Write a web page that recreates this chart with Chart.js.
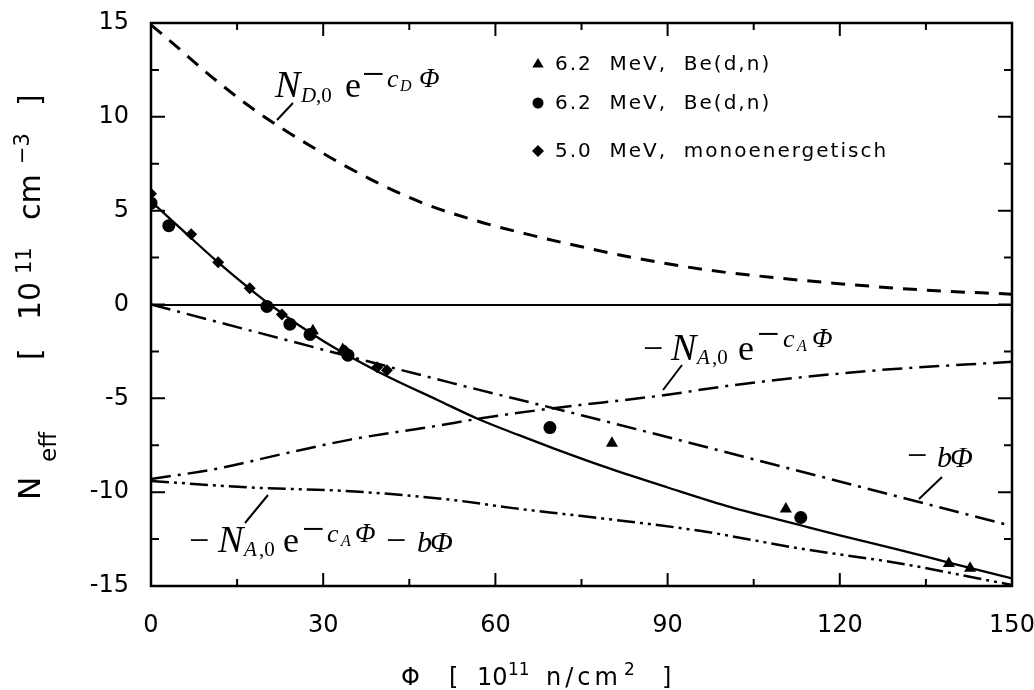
<!DOCTYPE html>
<html>
<head>
<meta charset="utf-8">
<script src="https://cdn.jsdelivr.net/npm/chart.js@4.4.0/dist/chart.umd.min.js"></script>
<style>
  html, body { margin: 0; padding: 0; background: #fff; }
  #wrap { width: 1034px; height: 690px; }
</style>
</head>
<body>
<div id="wrap"><canvas id="chart" width="1034" height="690"></canvas></div>
<script>
// measured data (Phi in 1e11 n/cm^2, Neff in 1e11 cm^-3)
const triX = [28.2, 33.4, 80.3, 110.6, 139.0, 142.7];
const triY = [-1.4, -2.4, -7.4, -10.9, -13.8, -14.05];
const circX = [0, 3.1, 20.2, 24.2, 27.7, 34.3, 69.5, 113.2];
const circY = [5.4, 4.2, -0.1, -1.05, -1.6, -2.7, -6.56, -11.35];
const diaX = [0, 7.0, 11.7, 17.2, 22.8, 33.8, 39.4, 41.1];
const diaY = [5.9, 3.75, 2.25, 0.86, -0.53, -2.45, -3.35, -3.5];

// fitted curve Neff
const fitX = [0, 5, 11.5, 20.7, 30, 40, 50, 57, 64, 70, 80, 90, 101, 113, 120, 130, 139, 150];
const fitY = [5.5, 4.1, 2.3, 0, -1.95, -3.65, -5.1, -6.1, -6.95, -7.65, -8.75, -9.75, -10.8, -11.75, -12.3, -13.05, -13.75, -14.6];
// N_D,0 exp(-cD Phi)
const donX = [0, 3.3, 10.3, 17.2, 23, 30, 38.7, 47.4, 56.8, 65.5, 74.2, 84, 96.9, 109.6, 122.3, 135.2, 150];
const donY = [14.9, 14.05, 12.2, 10.55, 9.35, 8.05, 6.6, 5.4, 4.45, 3.75, 3.13, 2.5, 1.84, 1.4, 1.05, 0.76, 0.55];
// -b Phi
const linX = [0, 52, 75, 150];
const linY = [0, -4.15, -5.9, -11.8];
// -N_A,0 exp(-cA Phi)
const accX = [0, 11.5, 23, 34.7, 49.1, 57.8, 69.5, 88.7, 101.4, 124.7, 150];
const accY = [-9.3, -8.75, -7.96, -7.2, -6.5, -6.05, -5.55, -4.86, -4.3, -3.55, -3.05];
// -N_A,0 exp(-cA Phi) - b Phi
const sumX = [0, 17.2, 34.7, 52.1, 63.1, 74.7, 95.6, 113, 130.5, 150];
const sumY = [-9.4, -9.75, -9.95, -10.4, -10.85, -11.26, -12.06, -13.0, -13.8, -14.95];

const legendLabels = ['6.2  MeV,  Be(d,n)', '6.2  MeV,  Be(d,n)', '5.0  MeV,  monoenergetisch'];

function pts(xs, ys) { return xs.map((x, i) => ({ x: x, y: ys[i] })); }

const SANS = "'DejaVu Sans', sans-serif";
const SERIF = "'Liberation Serif', 'DejaVu Serif', serif";

function lineSet(xs, ys, dash, width) {
    return {
        data: pts(xs, ys),
        showLine: true,
        pointRadius: 0,
        borderColor: '#000',
        borderWidth: width,
        borderDash: dash,
        cubicInterpolationMode: 'monotone',
        fill: false
    };
}

function marker(ctx, style, x, y, r) {
    ctx.beginPath();
    if (style === 'circle') {
        ctx.arc(x, y, r, 0, Math.PI * 2);
    } else if (style === 'triangle') {
        ctx.moveTo(x, y - r);
        ctx.lineTo(x + r * 0.95, y + r * 0.6);
        ctx.lineTo(x - r * 0.95, y + r * 0.6);
        ctx.closePath();
    } else {
        ctx.moveTo(x, y - r);
        ctx.lineTo(x + r, y);
        ctx.lineTo(x, y + r);
        ctx.lineTo(x - r, y);
        ctx.closePath();
    }
    ctx.fill();
}

// text pieces at absolute positions
function pieces(ctx, list) {
    list.forEach(p => {
        ctx.font = p.f;
        ctx.letterSpacing = p.ls || '0px';
        ctx.fillText(p.t, p.x, p.y);
    });
    ctx.letterSpacing = '0px';
}

const it = s => 'italic ' + s + 'px ' + SERIF;
const up = s => s + 'px ' + SERIF;

const decor = {
    id: 'decor',
    afterDraw(chart) {
        const ctx = chart.ctx;
        const a = chart.chartArea;
        const xs = chart.scales.x, ys = chart.scales.y;
        ctx.save();
        ctx.strokeStyle = '#000';
        ctx.fillStyle = '#000';

        // frame
        ctx.lineWidth = 2.5;
        ctx.strokeRect(a.left, a.top, a.right - a.left, a.bottom - a.top);

        // inward ticks on all sides
        ctx.lineWidth = 2;
        ctx.beginPath();
        for (let v = 0; v <= 150; v += 15) {
            const px = xs.getPixelForValue(v);
            const len = v % 30 === 0 ? 13 : 7;
            ctx.moveTo(px, a.bottom); ctx.lineTo(px, a.bottom - len);
            ctx.moveTo(px, a.top); ctx.lineTo(px, a.top + len);
        }
        for (let v = -15; v <= 15; v += 2.5) {
            const py = ys.getPixelForValue(v);
            const len = v % 5 === 0 ? 14 : 8;
            ctx.moveTo(a.left, py); ctx.lineTo(a.left + len, py);
            ctx.moveTo(a.right, py); ctx.lineTo(a.right - len, py);
        }
        // leader lines of the curve labels
        ctx.moveTo(293, 103); ctx.lineTo(277, 120);
        ctx.moveTo(682, 365); ctx.lineTo(663, 390);
        ctx.moveTo(942, 477); ctx.lineTo(919, 499);
        ctx.moveTo(268, 495); ctx.lineTo(245, 523);
        ctx.stroke();

        // curve labels
        ctx.textAlign = 'left';
        ctx.textBaseline = 'alphabetic';
        pieces(ctx, [
            { t: 'N', f: it(38), x: 275, y: 97 },
            { t: 'D', f: it(21), x: 301, y: 102 },
            { t: ',0', f: up(21), x: 316, y: 102 },
            { t: 'e', f: up(36), x: 345, y: 97 },
            { t: '\u2212', f: up(40), x: 362, y: 87 },
            { t: 'c', f: it(26), x: 387, y: 87 },
            { t: 'D', f: it(16), x: 400, y: 91 },
            { t: '\u03A6', f: it(27), x: 419, y: 87 }
        ]);
        pieces(ctx, [
            { t: '\u2212', f: up(36), x: 643, y: 360 },
            { t: 'N', f: it(38), x: 671, y: 360 },
            { t: 'A', f: it(21), x: 697, y: 364 },
            { t: ',0', f: up(21), x: 712, y: 364 },
            { t: 'e', f: up(36), x: 738, y: 360 },
            { t: '\u2212', f: up(40), x: 757, y: 347 },
            { t: 'c', f: it(26), x: 783, y: 347 },
            { t: 'A', f: it(16), x: 797, y: 351 },
            { t: '\u03A6', f: it(27), x: 812, y: 347 }
        ]);
        pieces(ctx, [
            { t: '\u2212', f: up(36), x: 907, y: 467 },
            { t: 'b', f: it(30), x: 937, y: 467 },
            { t: '\u03A6', f: it(30), x: 950, y: 467 }
        ]);
        pieces(ctx, [
            { t: '\u2212', f: up(36), x: 189, y: 552 },
            { t: 'N', f: it(38), x: 218, y: 552 },
            { t: 'A', f: it(21), x: 244, y: 556 },
            { t: ',0', f: up(21), x: 259, y: 556 },
            { t: 'e', f: up(36), x: 283, y: 552 },
            { t: '\u2212', f: up(40), x: 302, y: 542 },
            { t: 'c', f: it(26), x: 327, y: 542 },
            { t: 'A', f: it(16), x: 341, y: 546 },
            { t: '\u03A6', f: it(27), x: 355, y: 542 },
            { t: '\u2212', f: up(36), x: 386, y: 552 },
            { t: 'b', f: it(30), x: 417, y: 552 },
            { t: '\u03A6', f: it(30), x: 430, y: 552 }
        ]);

        // legend inside the plot
        const styles = ['triangle', 'circle', 'rectRot'];
        const rows = [64, 103, 151];
        ctx.font = '20px ' + SANS;
        ctx.textBaseline = 'middle';
        ctx.letterSpacing = '2px';
        legendLabels.forEach((lab, i) => {
            marker(ctx, styles[i], 538, rows[i], i === 1 ? 5.5 : 6);
            ctx.fillText(lab, 555, rows[i] + 1);
        });
        ctx.letterSpacing = '0px';

        // x axis title
        ctx.textBaseline = 'alphabetic';
        pieces(ctx, [
            { t: '\u03A6', f: '24px ' + SANS, x: 401, y: 685 },
            { t: '[', f: '24px ' + SANS, x: 449, y: 685 },
            { t: '10', f: '24px ' + SANS, x: 477, y: 685 },
            { t: '11', f: '17px ' + SANS, x: 508, y: 675 },
            { t: 'n/cm', f: '24px ' + SANS, x: 546, y: 685, ls: '4px' },
            { t: '2', f: '17px ' + SANS, x: 624, y: 675 },
            { t: ']', f: '24px ' + SANS, x: 662, y: 685 }
        ]);

        // y axis title, rotated
        ctx.translate(40, 500);
        ctx.rotate(-Math.PI / 2);
        pieces(ctx, [
            { t: 'N', f: '31px ' + SANS, x: 0, y: 0 },
            { t: 'eff', f: '23px ' + SANS, x: 38, y: 16 },
            { t: '[', f: '30px ' + SANS, x: 140, y: 0 },
            { t: '10', f: '30px ' + SANS, x: 180, y: 0 },
            { t: '11', f: '21px ' + SANS, x: 226, y: -9 },
            { t: 'cm', f: '30px ' + SANS, x: 280, y: 0 },
            { t: '\u22123', f: '21px ' + SANS, x: 336, y: -11 },
            { t: ']', f: '30px ' + SANS, x: 394, y: 0 }
        ]);
        ctx.restore();
    }
};

new Chart(document.getElementById('chart'), {
    type: 'scatter',
    data: {
        datasets: [
            { data: pts(triX, triY), pointStyle: 'triangle', pointRadius: 7, backgroundColor: '#000', borderColor: '#000', borderWidth: 0 },
            { data: pts(circX, circY), pointStyle: 'circle', pointRadius: 6.5, backgroundColor: '#000', borderColor: '#000', borderWidth: 0 },
            { data: pts(diaX, diaY), pointStyle: 'rectRot', pointRadius: 6, backgroundColor: '#000', borderColor: '#000', borderWidth: 0 },
            lineSet(fitX, fitY, [], 2.3),
            lineSet(donX, donY, [14, 10], 3),
            lineSet(linX, linY, [20, 7, 3, 7], 2.5),
            lineSet(accX, accY, [20, 7, 3, 7], 2.5),
            lineSet(sumX, sumY, [18, 5, 3, 5, 3, 5], 2.5)
        ]
    },
    options: {
        responsive: false,
        animation: false,
        layout: { padding: { top: 23, right: 22, left: 0, bottom: 0 } },
        plugins: {
            legend: { display: false },
            tooltip: { enabled: false }
        },
        scales: {
            x: {
                type: 'linear',
                min: 0,
                max: 150,
                border: { display: false },
                grid: { display: false },
                ticks: {
                    stepSize: 30,
                    color: '#000',
                    padding: 17,
                    maxRotation: 0,
                    font: { family: SANS, size: 24 }
                },
                afterFit: s => {
                    s.height = 104;
                    s.paddingLeft = 0;
                    s.paddingRight = 0;
                }
            },
            y: {
                type: 'linear',
                min: -15,
                max: 15,
                border: { display: false },
                grid: {
                    drawTicks: false,
                    lineWidth: 2,
                    color: c => (c.tick && c.tick.value === 0 ? '#000' : 'rgba(0,0,0,0)')
                },
                ticks: {
                    stepSize: 5,
                    color: '#000',
                    padding: 22,
                    font: { family: SANS, size: 24 }
                },
                afterFit: s => {
                    s.width = 151;
                    s.paddingTop = 0;
                    s.paddingBottom = 0;
                }
            }
        }
    },
    plugins: [decor]
});
</script>
</body>
</html>
